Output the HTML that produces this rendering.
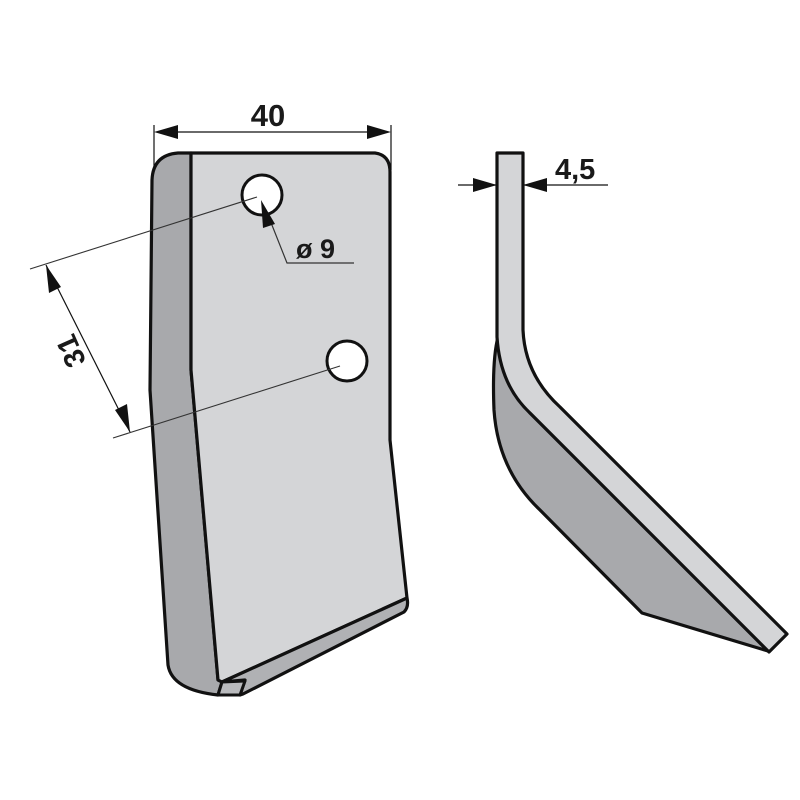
<!DOCTYPE html>
<html><head><meta charset="utf-8"><style>
html,body{margin:0;padding:0;background:#fff;}
svg{display:block}
text{font-family:"Liberation Sans",Arial,sans-serif;font-weight:bold;fill:#1a1a1a}
</style></head><body>
<svg width="800" height="800" viewBox="0 0 800 800" xmlns="http://www.w3.org/2000/svg">
<!-- FRONT BLADE -->
<path d="M191,153 L178,153 Q153,155 152,180 L150,390 L168,665 Q172,690 218,695 L222,682 L218,680 L191,370 Z" fill="#a8a9ac" stroke="#111" stroke-width="3.2" stroke-linejoin="round"/>
<path d="M191,153 L375,153 Q390,155 390,172 L390,440 L407,598 L222,682 L218,680 L191,370 Z" fill="#d4d5d7" stroke="#111" stroke-width="3.2" stroke-linejoin="round"/>
<path d="M222,682 L407,598 Q409,607 404,612 L243,694 L240,695 L245,680 Z" fill="#b0b1b4" stroke="#111" stroke-width="3.2" stroke-linejoin="round"/>
<path d="M222,682 L245,681 L240,695 L218,695 Z" fill="#b9babd" stroke="#111" stroke-width="3" stroke-linejoin="round"/>
<circle cx="262" cy="195" r="20" fill="#fff" stroke="#111" stroke-width="3"/>
<circle cx="347" cy="361" r="20" fill="#fff" stroke="#111" stroke-width="3"/>
<!-- 40 dim -->
<line x1="154" y1="125" x2="154" y2="170" stroke="#111" stroke-width="1.2"/>
<line x1="391" y1="125" x2="391" y2="170" stroke="#111" stroke-width="1.2"/>
<line x1="174" y1="132" x2="371" y2="132" stroke="#111" stroke-width="1.2"/>
<path d="M154,132 L178,125 L178,139 Z" fill="#111"/>
<path d="M391,132 L367,125 L367,139 Z" fill="#111"/>
<text x="268" y="126" font-size="31" text-anchor="middle">40</text>
<!-- ø9 leader -->
<polyline points="266,210 287,263 354,263" fill="none" stroke="#333" stroke-width="1.2"/>
<path d="M261,200 L275,224 L263,228 Z" fill="#111"/>
<text x="296" y="258" font-size="27">ø 9</text>
<!-- 31 dim -->
<line x1="257" y1="197" x2="30" y2="269" stroke="#333" stroke-width="1.1"/>
<line x1="340" y1="366" x2="113" y2="438" stroke="#333" stroke-width="1.1"/>
<line x1="46" y1="265" x2="130" y2="432" stroke="#111" stroke-width="1.2"/>
<path d="M46,265 L61,287 L49,293 Z" fill="#111"/>
<path d="M130,432 L115,410 L127,404 Z" fill="#111"/>
<text x="0" y="0" font-size="29" text-anchor="middle" transform="translate(80,347) rotate(-114)">31</text>
<!-- SIDE VIEW -->
<path d="M498,337 Q492,360 494,410 Q498,470 540,510 L642,613 L768,651 L530,413 Q505,385 498,337 Z" fill="#a8a9ac" stroke="#111" stroke-width="3.2" stroke-linejoin="round"/>
<path d="M497,153 L523,153 L523,330 Q525,375 560,407 L787,634 L769,652 L530,413 Q500,385 497,337 Z" fill="#d4d5d7" stroke="#111" stroke-width="3.2" stroke-linejoin="round"/>
<!-- 4,5 dim -->
<line x1="458" y1="185" x2="497" y2="185" stroke="#111" stroke-width="1.2"/>
<line x1="523" y1="185" x2="608" y2="185" stroke="#111" stroke-width="1.2"/>
<path d="M497,185 L473,178 L473,192 Z" fill="#111"/>
<path d="M523,185 L547,178 L547,192 Z" fill="#111"/>
<text x="555" y="179" font-size="29">4,5</text>
</svg>
</body></html>
